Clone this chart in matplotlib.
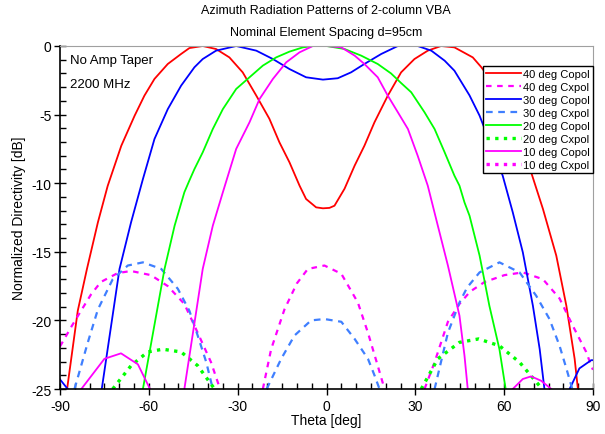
import numpy as np
import matplotlib
matplotlib.use("Agg")
import matplotlib.pyplot as plt
from matplotlib.ticker import MultipleLocator

plt.rcParams['font.family'] = ['Liberation Sans', 'DejaVu Sans']
plt.rcParams['axes.unicode_minus'] = False

nan = np.nan

# ---- data (theta in deg, normalized directivity in dB) ----
cp40_theta = [-87.6, -84, -80.9, -77.2, -73.9, -69.3, -64.8, -61.5, -58.1, -53.6, -49.1, -46.3, -41.8,
              -37.3, -32.8, -28.3, -23.7, -19.3, -15.9, -12.5, -9.1, -6.9, -3.5, -1.2, 1, 2.7, 6.1, 9.5,
              12.8, 16.2, 20.7, 25.2, 29.7, 34.2, 38.7, 43.2, 46.6, 49.4, 52.3, 56.5, 60.5, 64.5,
              69.1, 73.1, 77.6, 81, 83.8, 84.9]
cp40_db = [-25, -19.3, -16.25, -12.85, -10.2, -7.27, -5.08, -3.62, -2.4, -1.31, -0.58, -0.15, 0,
           -0.22, -0.83, -1.92, -3.62, -5.3, -7.02, -8.48, -10.18, -11.15, -11.76, -11.83, -11.8, -11.64, -10.4, -8.72,
           -7.27, -5.56, -3.62, -1.92, -0.95, -0.34, 0, -0.1, -0.5, -0.83, -1.55, -2.8, -4.3, -6.2,
           -9.2, -11.88, -15.28, -18.93, -22.8, -25]

cp30_theta = [-90, -87.4, nan,
              -75.9, -69.9, -66, -62, -58.1, -53.6, -49.1, -44.6, -41.8, -37.3, -30.5, -23.7, -18.1,
              -12.5, -6.9, -1.2, 3.8, 8.3, 12.8, 18.5, 24.1, 30.8, 35.4, 39.9, 43.2, 44.9, 46.6, 48.3,
              51.7, 55.5, 59.5, 62.9, 66.3, 69.7, 72, 73.6, nan,
              82.1, 85.4, 89.4, 90]
cp30_db = [-24.3, -25, nan,
           -25, -16.25, -12.85, -9.7, -6.78, -4.6, -2.89, -1.55, -0.95, -0.34, 0, -0.34, -0.95,
           -1.68, -2.28, -2.45, -2.35, -1.92, -1.31, -0.58, 0, 0, -0.34, -1.07, -1.8, -2.4, -3.0, -3.6,
           -5.08, -7.2, -9.45, -12.12, -15.04, -18.93, -22.1, -25, nan,
           -25, -23.5, -22.9, -22.9]

cp20_theta = [-62, -54.7, -51.3, -48, -46.3, -44.6, -41.8, -38.4, -35, -30.5, -26, -21.5, -17, -12.5,
              -8, -4.6, 0, 6.1, 11.7, 17.3, 21.8, 25.2, 28.6, 33.1, 36.5, 39.9, 43.2, 44.9, 46.6, 48.3,
              51.7, 55, 58.4, 60.5]
cp20_db = [-25, -16.25, -13.1, -10.66, -9.8, -8.97, -7.75, -6.05, -4.6, -3.13, -2.28, -1.43, -0.83, -0.41,
           -0.1, 0, 0, -0.22, -0.7, -1.31, -2.0, -2.7, -3.37, -4.83, -6.05, -7.75, -9.45, -10.18, -11.4, -12.37,
           -15.28, -18.93, -22.1, -25]

cp10_theta = [-82.8, -75, -69.4, -63.7, -59.6, nan,
              -48, -41.8, -38.4, -35, -30.5, -26, -22.6, -18.1, -13.6, -9.1, -4.6, 0, 5, 9.5, 12.8,
              17.3, 20.7, 24.1, 27.5, 30.8, 34.2, 37.6, 41, 44.9, 46.6, 47.7, nan,
              62.9, 66.3, 69.1, 72.5, 75.9]
cp10_db = [-25, -22.8, -22.4, -23.2, -25, nan,
           -25, -16.25, -13.1, -10.66, -7.5, -5.56, -3.86, -2.4, -1.19, -0.46, 0, 0, -0.1, -0.7, -1.31,
           -2.28, -3.62, -4.83, -6.05, -8.0, -10.18, -13.1, -16.0, -19.65, -22.57, -25, nan,
           -25, -24.27, -24.08, -24.4, -25]

xp40_theta = [-90, -86, -82.9, -79.5, -76.2, -70.5, -66, -59.3, -53.6, -48, -43.5, -39, -36.1, -35.8, nan,
              -21.5, -18.7, -14.2, -10, -6.3, -0.7, 5, 10.6, 14, 17.3, 19.6, nan,
              33.1, 36.5, 41, 44.9, 48.5, 53.4, 60.1, 66.3, 73.1, 78.7, 83.2, 87.7, 89.4, 90]
xp40_db = [-21.9, -20.4, -19.3, -18.1, -17.2, -16.55, -16.4, -16.7, -17.5, -18.8, -20.9, -23.05, -24.9, -25, nan,
           -25, -22.1, -19.2, -17.3, -16.25, -16.0, -16.6, -18.7, -20.9, -23.3, -25, nan,
           -25, -23.05, -20.1, -18.8, -17.9, -17.2, -16.7, -16.5, -17.0, -18.4, -20.4, -22.3, -23.3, -23.6]

xp30_theta = [-85.1, -80.6, -77.2, -72.2, -67.1, -62, -55.8, -50.2, -46.3, -43.5, -40.6, -38.4, nan,
              -20.2, -15.3, -10.8, -5.2, -0.7, 5, 9.5, 14, 16.2, 17.9, nan,
              36.5, 41, 44.9, 47.5, 51.7, 58.4, 65.2, 70.8, 75.3, 78.7, 81, 83]
xp30_db = [-25, -21.6, -19.2, -17, -16, -15.77, -16.25, -17.7, -19.3, -21.1, -23.05, -25, nan,
           -25, -22.8, -21.1, -20.0, -19.9, -20.1, -21.35, -22.8, -24, -25, nan,
           -25, -20.9, -18.7, -17.6, -16.5, -15.77, -16.5, -18.2, -19.9, -21.85, -23.5, -25]

xp20_theta = [-72.2, -66, -60.4, -55.3, -49.1, -43.5, -37.8, nan,
              32, 37.6, 44.9, 51.4, 58.4, 65.2, 71.9, 72.5]
xp20_db = [-25, -23.3, -22.3, -22.1, -22.3, -23.3, -25, nan,
           -25, -22.8, -21.6, -21.35, -21.85, -23.05, -24.76, -25]

# 10 deg Cxpol lies entirely below the -25 dB floor of the plot
xp10_theta = []
xp10_db = []

labels = ["40 deg Copol", "40 deg Cxpol", "30 deg Copol", "30 deg Cxpol",
          "20 deg Copol", "20 deg Cxpol", "10 deg Copol", "10 deg Cxpol"]

x_ticks = [-90, -60, -30, 0, 30, 60, 90]
y_ticks = [0, -5, -10, -15, -20, -25]

# ---- figure ----
fig = plt.figure(figsize=(6.05, 4.35), dpi=100)
ax = fig.add_axes([60/605, 1-390/435, 533/605, 343/435])

series = [
    (cp40_theta, cp40_db, dict(color='#FF0000', lw=1.3, ls='-')),
    (xp40_theta, xp40_db, dict(color='#FF00FF', lw=1.6, ls=(0, (2.5, 2.5)))),
    (cp30_theta, cp30_db, dict(color='#0000FF', lw=1.3, ls='-')),
    (xp30_theta, xp30_db, dict(color='#3F7FFF', lw=1.6, ls=(0, (3, 2.5)))),
    (cp20_theta, cp20_db, dict(color='#00FF00', lw=1.3, ls='-')),
    (xp20_theta, xp20_db, dict(color='#00FF00', lw=2.4, ls=(0, (1, 1.6)))),
    (cp10_theta, cp10_db, dict(color='#FF00FF', lw=1.3, ls='-')),
    (xp10_theta, xp10_db, dict(color='#FF00FF', lw=2.4, ls=(0, (1, 1.6)))),
]
for (t, d, st), lab in zip(series, labels):
    ax.plot(t, d, label=lab, **st)

ax.set_xlim(-90, 90)
ax.set_ylim(-25, 0)
ax.set_xticks(x_ticks)
ax.set_yticks(y_ticks)
ax.xaxis.set_minor_locator(MultipleLocator(5))
ax.yaxis.set_minor_locator(MultipleLocator(1))
ax.tick_params(which='major', direction='inout', length=8, width=1, labelsize=10, colors='black')
ax.tick_params(which='minor', direction='in', length=4, width=1)
ax.tick_params(top=False, right=False, which='both')
ax.tick_params(axis='x', pad=3)
ax.tick_params(axis='y', pad=2)
for s in ('top', 'right'):
    ax.spines[s].set_color('#A0A0A0')
for s in ('left', 'bottom'):
    ax.spines[s].set_linewidth(1.2)

ax.set_xlabel("Theta [deg]", fontsize=10, labelpad=0)
ax.set_ylabel("Normalized Directivity [dB]", fontsize=10, labelpad=4)

fig.text(0.539, 1-11/435, "Azimuth Radiation Patterns of 2-column VBA", ha='center', va='center', fontsize=9)
fig.text(0.539, 1-33/435, "Nominal Element Spacing d=95cm", ha='center', va='center', fontsize=9)

ax.text(0.018, 0.96, "No Amp Taper", transform=ax.transAxes, fontsize=9.5, va='center', ha='left')
ax.text(0.018, 0.89, "2200 MHz", transform=ax.transAxes, fontsize=9.5, va='center', ha='left')

leg = ax.legend(loc='upper right', bbox_to_anchor=(1.0, (390-67)/343), borderaxespad=0,
                fontsize=8, frameon=True, fancybox=False, handlelength=3.1, handletextpad=0.2,
                labelspacing=0.26, borderpad=0.3, framealpha=1)
leg.get_frame().set_edgecolor('black')
leg.get_frame().set_linewidth(1.0)

fig.savefig("out.png", dpi=100)
